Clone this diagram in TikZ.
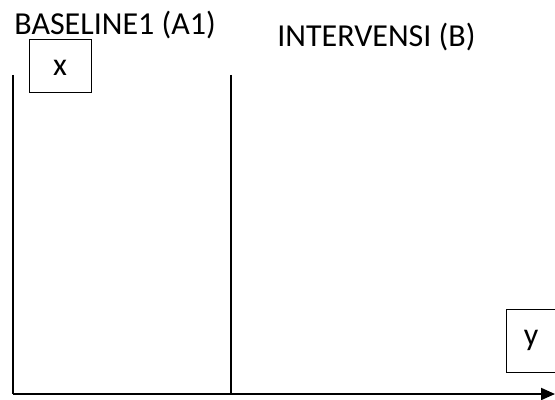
\documentclass[tikz,border=0pt]{standalone}
\usepackage{fontspec}
\setmainfont{Carlito}
\usepackage{tikz}
\usetikzlibrary{arrows.meta,positioning}

\tikzset{
  axisline/.style={line width=1pt},
  markbox/.style={draw, line width=0.5pt, inner sep=0pt, font=\fontsize{16}{18}\selectfont},
  phaselabel/.style={anchor=base west, inner sep=0pt, font=\fontsize{16}{18}\selectfont}
}

\begin{document}
\begin{tikzpicture}[x=0.5pt,y=-0.5pt]
		\useasboundingbox (0,0) rectangle (555,400);

		% axes
		\coordinate (origin) at (13,394);
		\coordinate (ytop) at (13,75);
		\coordinate (xend) at (555,394);
		\coordinate (midtop) at (231,75);
		\coordinate (midbot) at (231,394);

		\draw[axisline] (ytop) -- (origin);
		\draw[axisline, -{Triangle[length=7pt,width=6pt]}] (origin) -- (xend);
		\draw[axisline] (midtop) -- (midbot);

		% phase labels
		\node[phaselabel] (baseline) at (14,35) {BASELINE1 (A1)};
		\node[phaselabel] (interv) at (277,47) {INTERVENSI (B)};

		% boxes
		\node[markbox, text height=1.8ex, text depth=0pt, minimum width=31pt, minimum height=26.5pt] (xbox) at (60,66.5) {x};
		\node[markbox, minimum width=25pt, minimum height=31.5pt] (ybox) at (531,340.5) {y};
	\end{tikzpicture}
\end{document}
